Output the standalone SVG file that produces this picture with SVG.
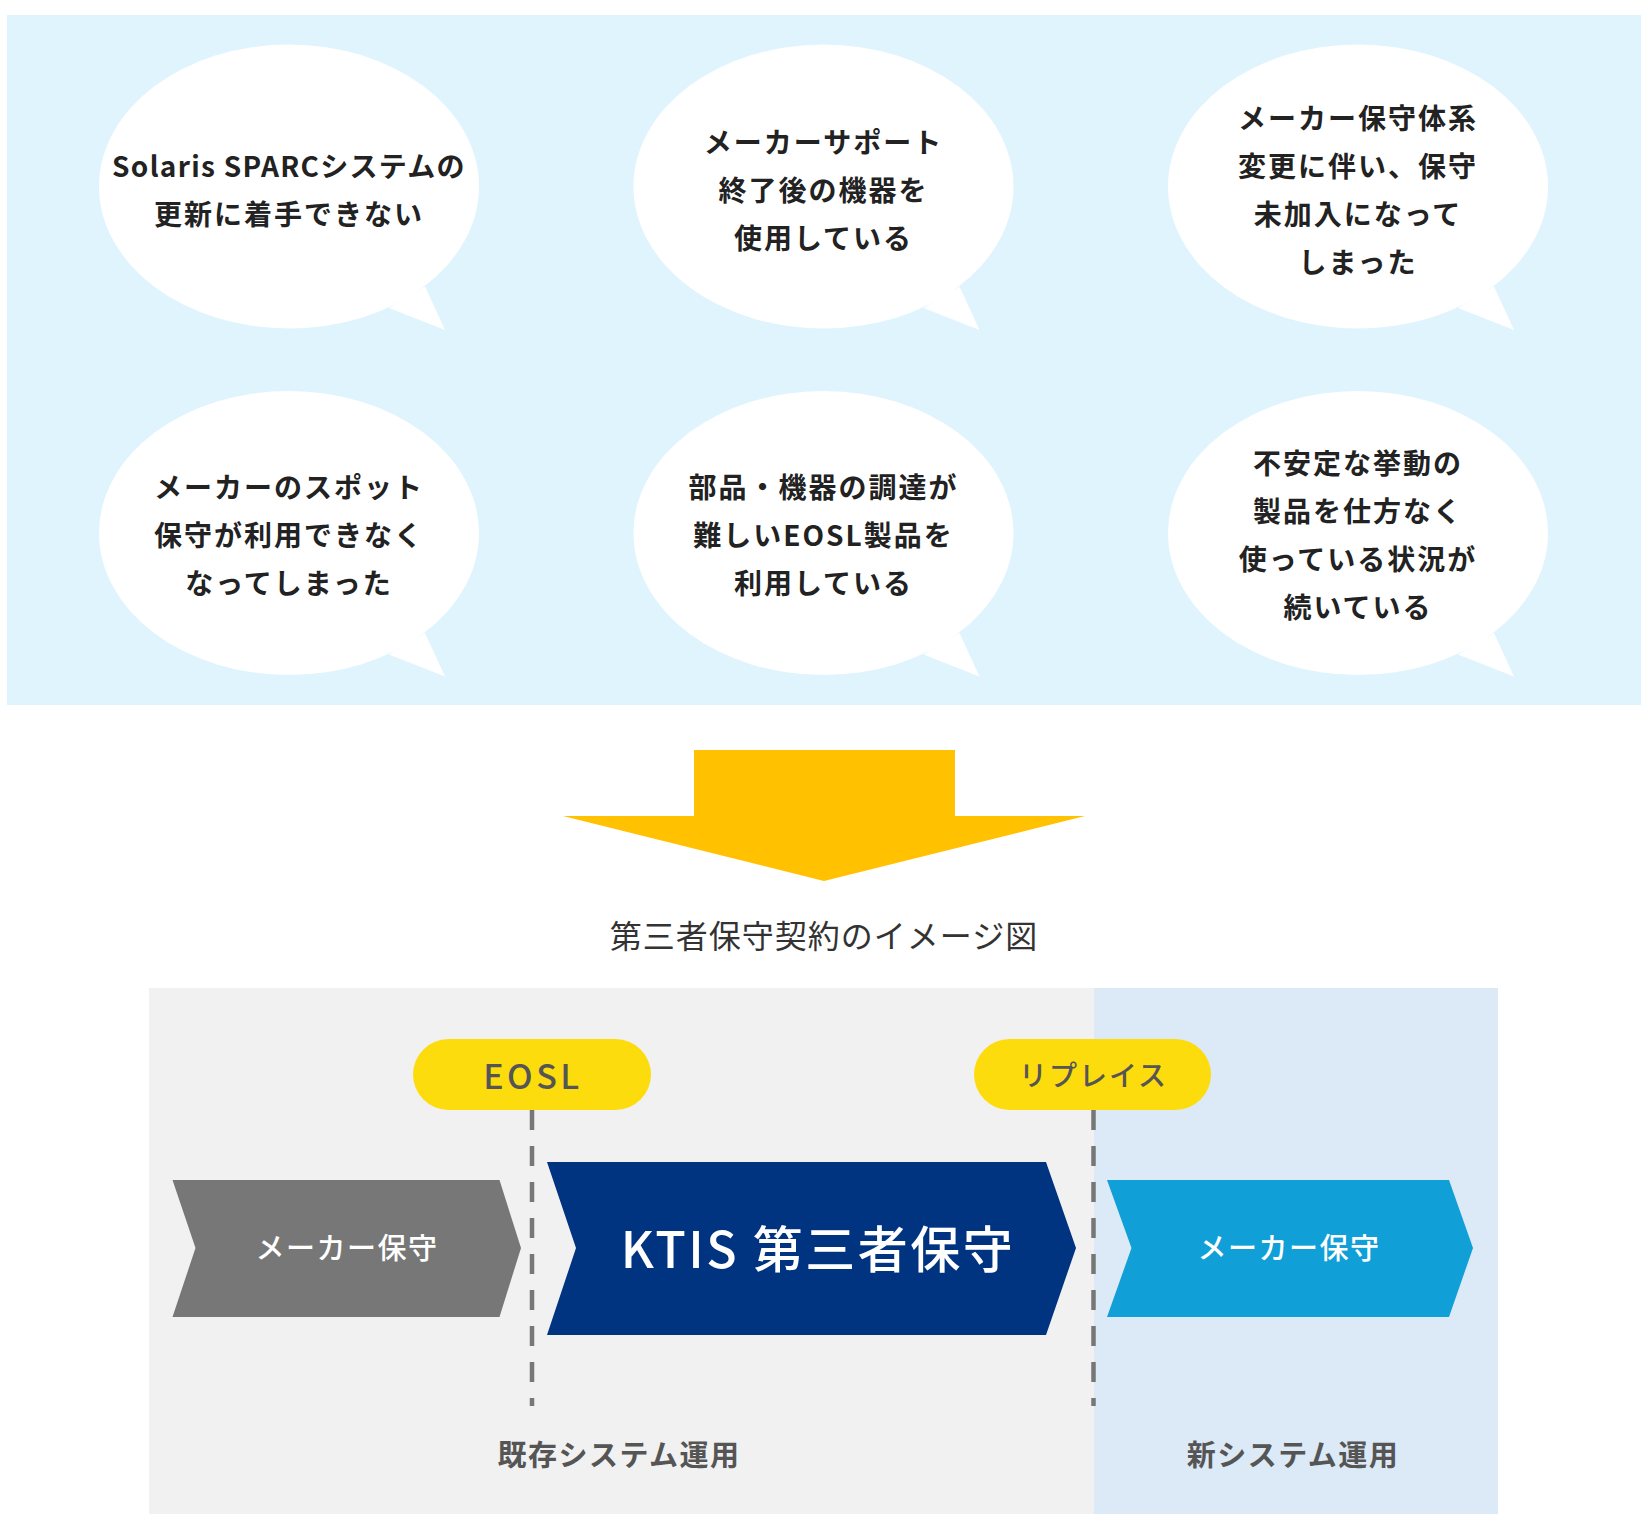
<svg xmlns="http://www.w3.org/2000/svg" width="1649" height="1532" viewBox="0 0 1649 1532">
<style>
.bt{font-family:"Noto Sans CJK JP","Noto Sans",sans-serif;font-size:28px;font-weight:700;fill:#222;text-anchor:middle;letter-spacing:2px}
.bt.tight{letter-spacing:1.3px}
.bub{fill:#fff}
.chev{font-family:"Noto Sans CJK JP","Noto Sans",sans-serif;font-size:29px;font-weight:500;fill:#fff;text-anchor:middle;letter-spacing:1.5px}
.pill{fill:#fcdc0d}
.pt{font-family:"Noto Sans CJK JP","Noto Sans",sans-serif;font-weight:500;fill:#555;text-anchor:middle}
.lab{font-family:"Noto Sans CJK JP","Noto Sans",sans-serif;font-size:29px;font-weight:700;fill:#555;text-anchor:middle;letter-spacing:1.5px}
.dash{stroke:#777;stroke-width:4.5;stroke-dasharray:20 16;fill:none}
</style>
<rect width="1649" height="1532" fill="#fff"/>
<rect id="problems-panel" x="7" y="15" width="1634" height="690" fill="#e0f4fd"/>

<g id="bubble1">
<ellipse class="bub" cx="289" cy="186.5" rx="190" ry="142"/>
<polygon class="bub" points="425,286.5 445,330 389,308"/>
<text class="bt tight" x="289" y="176.5">Solaris SPARCシステムの</text>
<text class="bt" x="289" y="224.5">更新に着手できない</text>
</g>
<g id="bubble2">
<ellipse class="bub" cx="823.5" cy="186.5" rx="190" ry="142"/>
<polygon class="bub" points="959.5,286.5 979.5,330 923.5,308"/>
<text class="bt" x="823.5" y="152.5">メーカーサポート</text>
<text class="bt" x="823.5" y="200.5">終了後の機器を</text>
<text class="bt" x="823.5" y="248.5">使用している</text>
</g>
<g id="bubble3">
<ellipse class="bub" cx="1358" cy="186.5" rx="190" ry="142"/>
<polygon class="bub" points="1494,286.5 1514,330 1458,308"/>
<text class="bt" x="1358" y="128.5">メーカー保守体系</text>
<text class="bt" x="1358" y="176.5">変更に伴い、保守</text>
<text class="bt" x="1358" y="224.5">未加入になって</text>
<text class="bt" x="1358" y="272.5">しまった</text>
</g>
<g id="bubble4">
<ellipse class="bub" cx="289" cy="533" rx="190" ry="142"/>
<polygon class="bub" points="425,633 445,676.5 389,654.5"/>
<text class="bt" x="289" y="497.5">メーカーのスポット</text>
<text class="bt" x="289" y="545.5">保守が利用できなく</text>
<text class="bt" x="289" y="593.5">なってしまった</text>
</g>
<g id="bubble5">
<ellipse class="bub" cx="823.5" cy="533" rx="190" ry="142"/>
<polygon class="bub" points="959.5,633 979.5,676.5 923.5,654.5"/>
<text class="bt" x="823.5" y="497.5">部品・機器の調達が</text>
<text class="bt" x="823.5" y="545.5">難しいEOSL製品を</text>
<text class="bt" x="823.5" y="593.5">利用している</text>
</g>
<g id="bubble6">
<ellipse class="bub" cx="1358" cy="533" rx="190" ry="142"/>
<polygon class="bub" points="1494,633 1514,676.5 1458,654.5"/>
<text class="bt" x="1358" y="473.5">不安定な挙動の</text>
<text class="bt" x="1358" y="521.5">製品を仕方なく</text>
<text class="bt" x="1358" y="569.5">使っている状況が</text>
<text class="bt" x="1358" y="617.5">続いている</text>
</g>

<g id="down-arrow">
<polygon points="694,750 955,750 955,816 1085,816 824,881 563,816 694,816" fill="#ffc100"/>
</g>

<text id="title" x="824" y="948" font-family="'Noto Sans CJK JP','Noto Sans',sans-serif" font-size="32" fill="#333" text-anchor="middle" letter-spacing="1">第三者保守契約のイメージ図</text>

<g id="timeline-panel">
<rect x="149" y="988" width="1349" height="526" fill="#f1f1f1"/>
<rect x="1094" y="988" width="404" height="526" fill="#dce9f6"/>
</g>

<g id="connectors">
<line class="dash" x1="532" y1="1110" x2="532" y2="1406"/>
<line class="dash" x1="1093.5" y1="1110" x2="1093.5" y2="1406"/>
</g>

<g id="eosl">
<rect class="pill" x="413" y="1039" width="238" height="71" rx="35.5"/>
<text class="pt" x="533" y="1089" font-size="34" letter-spacing="3.5">EOSL</text>
</g>
<g id="replace">
<rect class="pill" x="974" y="1039" width="237" height="71" rx="35.5"/>
<text class="pt" x="1093.5" y="1086" font-size="28" letter-spacing="2">リプレイス</text>
</g>

<g id="maker-old">
<polygon points="172.5,1180 499.5,1180 521,1248 499.5,1317 172.5,1317 195.5,1248" fill="#777"/>
<text class="chev" x="347" y="1259">メーカー保守</text>
</g>
<g id="ktis">
<polygon points="547,1162 1046,1162 1076,1248 1046,1335 547,1335 576,1248" fill="#003380"/>
<text x="818" y="1268" font-family="'Noto Sans CJK JP','Noto Sans',sans-serif" font-size="50" font-weight="500" fill="#fff" text-anchor="middle" letter-spacing="2.5">KTIS 第三者保守</text>
</g>
<g id="maker-new">
<polygon points="1107,1180 1449,1180 1473,1248 1449,1317 1107,1317 1131.5,1248" fill="#109fd7"/>
<text class="chev" x="1289" y="1259">メーカー保守</text>
</g>

<text id="label-old" class="lab" x="619" y="1466">既存システム運用</text>
<text id="label-new" class="lab" x="1293" y="1466">新システム運用</text>
</svg>
